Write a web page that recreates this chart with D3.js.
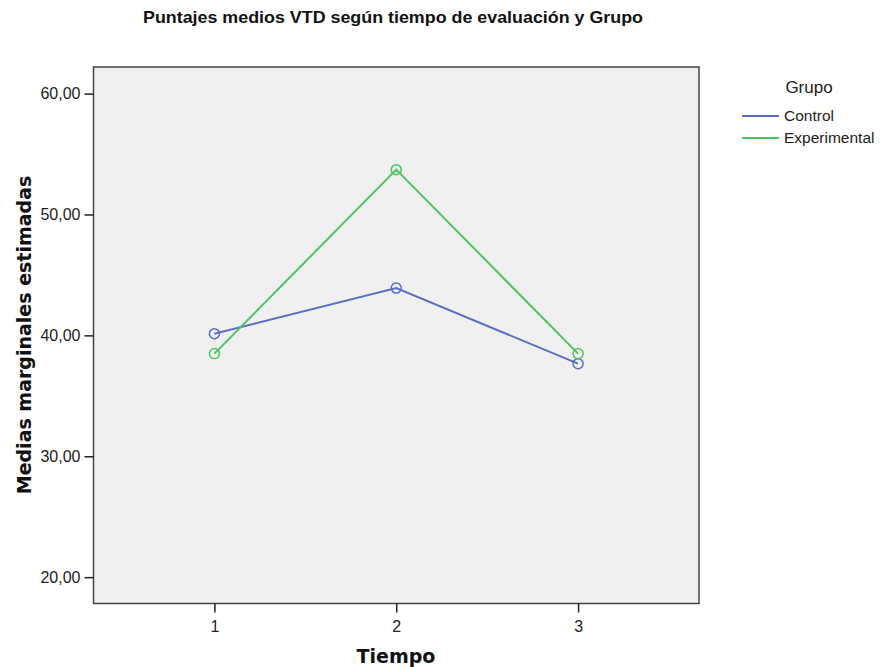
<!DOCTYPE html>
<html><head><meta charset="utf-8">
<script src="https://cdn.jsdelivr.net/npm/d3@7"></script>
<style>body{margin:0;background:#fff}</style>
</head><body>
<svg id="c" width="880" height="667"></svg>
<script>
const categories = [1, 2, 3];
const seriesNames = ["Control", "Experimental"];
const controlValues = [40.14, 43.91, 37.66];
const experimentalValues = [38.49, 53.71, 38.49];
const yTicks = [20, 30, 40, 50, 60];
const colors = ["#5a6ec6", "#4ec45c"];

(function(){
const svg = d3.select("#c");
const font = "'Liberation Sans', Arial, sans-serif";
const pLeft = 93.5, pRight = 699, pTop = 67, pBottom = 603.5;

const x = d3.scaleLinear().domain([0.335, 3.665]).range([pLeft, pRight]);
const y = d3.scaleLinear().domain([17.82, 62.2]).range([pBottom, pTop]);

svg.append("rect").attr("x", pLeft).attr("y", pTop).attr("width", pRight-pLeft).attr("height", pBottom-pTop)
  .attr("fill", "#f0f0f0").attr("stroke", "#444").attr("stroke-width", 1.5);

const yAxis = svg.append("g").attr("transform", `translate(${pLeft},0)`)
  .call(d3.axisLeft(y).tickValues(yTicks).tickSize(9).tickPadding(4).tickFormat(d => d3.format(".2f")(d).replace(".", ",")));
const xAxis = svg.append("g").attr("transform", `translate(0,${pBottom})`)
  .call(d3.axisBottom(x).tickValues(categories).tickSize(9).tickPadding(8).tickFormat(d3.format("d")));
[yAxis, xAxis].forEach(g => {
  g.select(".domain").remove();
  g.selectAll(".tick line").attr("stroke", "#222").attr("stroke-width", 1.5);
  g.selectAll(".tick text").attr("fill", "#222").style("font-family", font).style("font-size", "16px");
});

const series = [controlValues, experimentalValues];
const line = d3.line().x((d, i) => x(categories[i])).y(d => y(d));
series.forEach((vals, si) => {
  svg.append("path").datum(vals).attr("d", line).attr("fill", "none")
    .attr("stroke", colors[si]).attr("stroke-width", 2);
  svg.selectAll(null).data(vals).enter().append("circle")
    .attr("cx", (d, i) => x(categories[i])).attr("cy", d => y(d)).attr("r", 5)
    .attr("fill", "none").attr("stroke", colors[si]).attr("stroke-width", 1.5);
});

svg.append("text").attr("x", 393).attr("y", 23).attr("text-anchor", "middle")
  .attr("textLength", 500).attr("lengthAdjust", "spacingAndGlyphs")
  .style("font-family", font).style("font-weight", "bold").style("font-size", "17px").attr("fill", "#111")
  .text("Puntajes medios VTD según tiempo de evaluación y Grupo");

svg.append("text").attr("transform", "translate(31,335) rotate(-90)").attr("text-anchor", "middle")
  .style("font-family", "'DejaVu Sans', sans-serif").style("font-weight", "bold").style("font-size", "19px").attr("fill", "#111")
  .text("Medias marginales estimadas");

svg.append("text").attr("x", 396).attr("y", 663).attr("text-anchor", "middle")
  .style("font-family", "'DejaVu Sans', sans-serif").style("font-weight", "bold").style("font-size", "19px").attr("fill", "#111")
  .text("Tiempo");

svg.append("text").attr("x", 809).attr("y", 93).attr("text-anchor", "middle")
  .style("font-family", font).style("font-size", "17px").attr("fill", "#222").text("Grupo");
seriesNames.forEach((n, i) => {
  const ly = 116 + i * 22;
  svg.append("line").attr("x1", 742).attr("x2", 779).attr("y1", ly).attr("y2", ly)
    .attr("stroke", colors[i]).attr("stroke-width", 2);
  svg.append("text").attr("x", 784).attr("y", ly + 5).style("font-family", font).style("font-size", "15.5px")
    .attr("fill", "#222").text(n);
});
})();
</script>
</body></html>
